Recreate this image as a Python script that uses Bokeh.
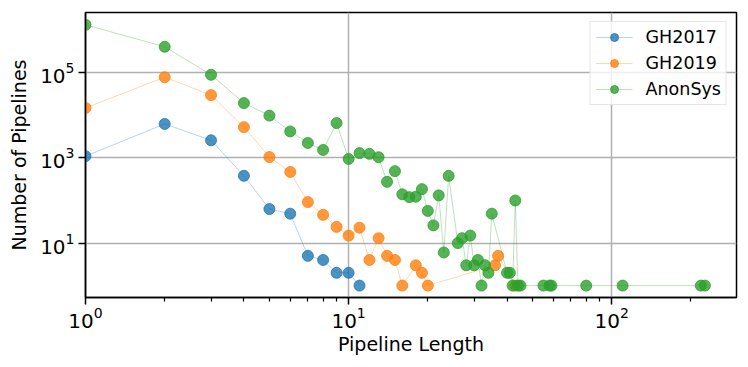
from bokeh.plotting import figure
from bokeh.models import FixedTicker, Legend, LegendItem, Range1d
from bokeh.embed import file_html
from bokeh.resources import INLINE

# ---- data ----
gh17_x = [1, 2, 3, 4, 5, 6, 7, 8, 9, 10, 11]
gh17_y = [1100, 6300, 2600, 380, 63, 49, 5, 4, 2, 2, 1]

gh19_x = [1, 2, 3, 4, 5, 6, 7, 8, 9, 10, 11, 12, 13, 14, 15, 16, 18, 19, 20, 36, 37, 43]
gh19_y = [15000, 79000, 30000, 5300, 1050, 470, 92, 46, 24, 15, 23, 4, 13, 5, 4, 1, 3, 2, 1, 3, 5, 1]

anon_x = [1, 2, 3, 4, 5, 6, 7, 8, 9, 10, 11, 12, 13, 14, 15, 16, 17, 18, 19, 20,
          21, 22, 23, 24, 26, 27, 28, 29, 30, 31, 32, 33, 34, 35, 40, 41, 42, 43,
          44, 45, 55, 58, 59, 80, 110, 218, 226]
anon_y = [1350000, 410000, 90000, 19500, 9900, 4200, 2250, 1540, 6600, 950,
          1300, 1250, 1040, 275, 490, 140, 120, 123, 185, 57,
          26, 132, 6, 380, 10, 13, 3, 15, 3, 4, 1, 3, 2, 49, 2, 2, 1, 100,
          1, 1, 1, 1, 1, 1, 1, 1, 1]

series_names = ["GH2017", "GH2019", "AnonSys"]
series_colors = ["#1f77b4", "#ff7f0e", "#2ca02c"]

x_major = [1, 10, 100]
x_minor = [2, 3, 4, 5, 6, 7, 8, 9, 20, 30, 40, 50, 60, 70, 80, 90, 200]
y_major = [10, 1000, 100000]

FONT = "DejaVu Sans"

p = figure(x_axis_type="log", y_axis_type="log",
           x_range=Range1d(1, 298), y_range=Range1d(0.525, 2.62e6),
           frame_width=651, frame_height=285,
           min_border_left=85, min_border_right=12, min_border_top=12, min_border_bottom=70,
           output_backend="svg", toolbar_location=None)
p.background_fill_color = "white"
p.border_fill_color = "white"
p.outline_line_color = "black"
p.outline_line_width = 1.5

items = []
for xs, ys, c, name in zip([gh17_x, gh19_x, anon_x], [gh17_y, gh19_y, anon_y],
                           series_colors, series_names):
    ln = p.line(xs, ys, line_color=c, line_width=0.9, line_alpha=0.35)
    sc = p.scatter(xs, ys, size=11, fill_color=c, line_color=c,
                   fill_alpha=0.8, line_alpha=0.8)
    items.append(LegendItem(label=name, renderers=[ln, sc]))

p.xaxis.ticker = FixedTicker(ticks=x_major, minor_ticks=x_minor)
p.yaxis.ticker = FixedTicker(ticks=y_major, minor_ticks=[])

p.grid.grid_line_color = "#b0b0b0"
p.grid.grid_line_width = 1.5

for ax in (p.xaxis, p.yaxis):
    ax.axis_line_width = 1.5
    ax.axis_line_color = "black"
    ax.major_tick_line_width = 1.5
    ax.major_tick_out = 7
    ax.major_tick_in = 0
    ax.minor_tick_out = 4
    ax.minor_tick_in = 0
    ax.minor_tick_line_width = 1.2
    ax.major_label_text_font = FONT
    ax.major_label_text_font_size = "20px"
    ax.major_label_text_color = "black"
    ax.axis_label_text_font = FONT
    ax.axis_label_text_font_size = "19px"
    ax.axis_label_text_font_style = "normal"
    ax.axis_label_text_color = "black"

p.xaxis.major_label_standoff = 2
p.xaxis.axis_label_standoff = 2
p.yaxis.major_label_standoff = 4
p.yaxis.axis_label_standoff = 7

p.xaxis.axis_label = "Pipeline Length"
p.yaxis.axis_label = "Number of Pipelines"

legend = Legend(items=items, location="top_right", margin=9,
                label_text_font=FONT, label_text_font_size="17.5px",
                label_text_color="black",
                glyph_width=37, glyph_height=20, label_height=20,
                label_standoff=13, spacing=6, padding=5,
                border_line_color="#cccccc", border_line_width=1.5,
                background_fill_alpha=0.8)
p.add_layout(legend)

open("out.html", "w").write(file_html(p, INLINE))
